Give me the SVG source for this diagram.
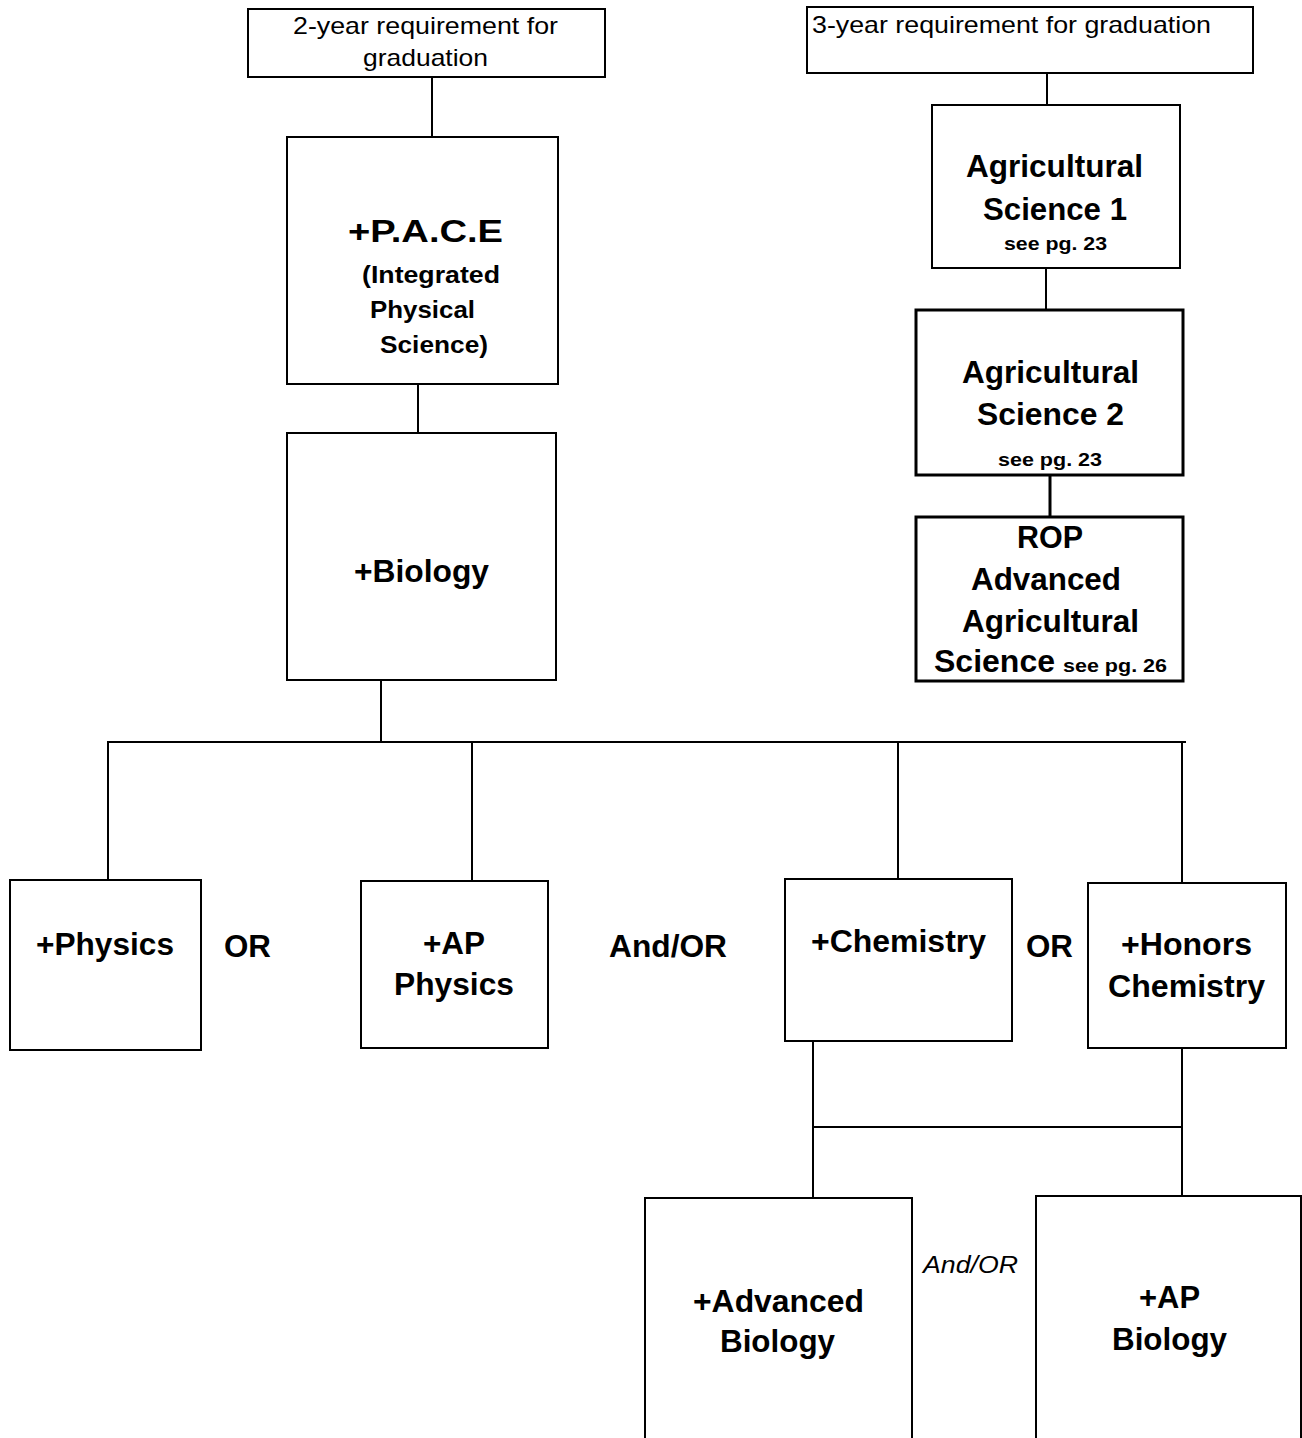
<svg xmlns="http://www.w3.org/2000/svg" width="1302" height="1438" viewBox="0 0 1302 1438">
<style>
.box{fill:#fff;stroke:#000;stroke-width:2}
.thick{fill:#fff;stroke:#000;stroke-width:3}
.ln{stroke:#000;stroke-width:2;fill:none}
.lnt{stroke:#000;stroke-width:3;fill:none}
text{font-family:"Liberation Sans",Arial,Helvetica,sans-serif;fill:#000}
.r{font-size:24px}
.b{font-size:31px;font-weight:bold}
.bp{font-size:32px;font-weight:bold}
.bs{font-size:24px;font-weight:bold}
.sm{font-size:18px;font-weight:bold}
.it{font-size:24px;font-style:italic}
</style>
<rect width="1302" height="1438" fill="#fff"/>
<g id="connectors">
<line class="ln" x1="432" y1="77" x2="432" y2="137"/>
<line class="ln" x1="418" y1="384" x2="418" y2="433"/>
<line class="ln" x1="381" y1="680" x2="381" y2="742"/>
<line class="ln" x1="107" y1="742" x2="1186" y2="742"/>
<line class="ln" x1="108" y1="742" x2="108" y2="880"/>
<line class="ln" x1="472" y1="742" x2="472" y2="881"/>
<line class="ln" x1="898" y1="742" x2="898" y2="879"/>
<line class="ln" x1="1182" y1="742" x2="1182" y2="883"/>
<line class="ln" x1="1047" y1="73" x2="1047" y2="105"/>
<line class="ln" x1="1046" y1="268" x2="1046" y2="310"/>
<line class="lnt" x1="1050" y1="475" x2="1050" y2="517"/>
<line class="ln" x1="813" y1="1040" x2="813" y2="1198"/>
<line class="ln" x1="813" y1="1127" x2="1182" y2="1127"/>
<line class="ln" x1="1182" y1="1048" x2="1182" y2="1196"/>
</g>
<g id="req2">
<rect class="box" x="248" y="9" width="357" height="68"/>
<text class="r" x="293" y="34" textLength="265" lengthAdjust="spacingAndGlyphs">2-year requirement for</text>
<text class="r" x="363" y="66" textLength="125" lengthAdjust="spacingAndGlyphs">graduation</text>
</g>
<g id="req3">
<rect class="box" x="807" y="7" width="446" height="66"/>
<text class="r" x="812" y="33" textLength="399" lengthAdjust="spacingAndGlyphs">3-year requirement for graduation</text>
</g>
<g id="pace">
<rect class="box" x="287" y="137" width="271" height="247"/>
<text class="bp" x="348" y="242" textLength="155" lengthAdjust="spacingAndGlyphs">+P.A.C.E</text>
<text class="bs" x="362" y="283" textLength="138" lengthAdjust="spacingAndGlyphs">(Integrated</text>
<text class="bs" x="370" y="318" textLength="105" lengthAdjust="spacingAndGlyphs">Physical</text>
<text class="bs" x="380" y="353" textLength="108" lengthAdjust="spacingAndGlyphs">Science)</text>
</g>
<g id="biology">
<rect class="box" x="287" y="433" width="269" height="247"/>
<text class="b" x="354" y="582" textLength="135" lengthAdjust="spacingAndGlyphs">+Biology</text>
</g>
<g id="ag1">
<rect class="box" x="932" y="105" width="248" height="163"/>
<text class="b" x="966" y="177" textLength="177" lengthAdjust="spacingAndGlyphs">Agricultural</text>
<text class="b" x="983" y="220" textLength="144" lengthAdjust="spacingAndGlyphs">Science 1</text>
<text class="sm" x="1004" y="250" textLength="103" lengthAdjust="spacingAndGlyphs">see pg. 23</text>
</g>
<g id="ag2">
<rect class="thick" x="916" y="310" width="267" height="165"/>
<text class="b" x="962" y="383" textLength="177" lengthAdjust="spacingAndGlyphs">Agricultural</text>
<text class="b" x="977" y="425" textLength="147" lengthAdjust="spacingAndGlyphs">Science 2</text>
<text class="sm" x="998" y="466" textLength="104" lengthAdjust="spacingAndGlyphs">see pg. 23</text>
</g>
<g id="rop">
<rect class="thick" x="916" y="517" width="267" height="164"/>
<text class="b" x="1017" y="548" textLength="66" lengthAdjust="spacingAndGlyphs">ROP</text>
<text class="b" x="971" y="590" textLength="150" lengthAdjust="spacingAndGlyphs">Advanced</text>
<text class="b" x="962" y="632" textLength="177" lengthAdjust="spacingAndGlyphs">Agricultural</text>
<text class="b" x="934" y="672" textLength="121" lengthAdjust="spacingAndGlyphs">Science</text>
<text class="sm" x="1063" y="672" textLength="104" lengthAdjust="spacingAndGlyphs">see pg. 26</text>
</g>
<g id="physics">
<rect class="box" x="10" y="880" width="191" height="170"/>
<text class="b" x="36" y="955" textLength="138" lengthAdjust="spacingAndGlyphs">+Physics</text>
</g>
<text class="b" x="224" y="957" textLength="47" lengthAdjust="spacingAndGlyphs">OR</text>
<g id="apphysics">
<rect class="box" x="361" y="881" width="187" height="167"/>
<text class="b" x="423" y="954" textLength="62" lengthAdjust="spacingAndGlyphs">+AP</text>
<text class="b" x="394" y="995" textLength="120" lengthAdjust="spacingAndGlyphs">Physics</text>
</g>
<text class="b" x="609" y="957" textLength="118" lengthAdjust="spacingAndGlyphs">And/OR</text>
<g id="chemistry">
<rect class="box" x="785" y="879" width="227" height="162"/>
<text class="b" x="811" y="952" textLength="175" lengthAdjust="spacingAndGlyphs">+Chemistry</text>
</g>
<text class="b" x="1026" y="957" textLength="47" lengthAdjust="spacingAndGlyphs">OR</text>
<g id="honorschem">
<rect class="box" x="1088" y="883" width="198" height="165"/>
<text class="b" x="1121" y="955" textLength="131" lengthAdjust="spacingAndGlyphs">+Honors</text>
<text class="b" x="1108" y="997" textLength="157" lengthAdjust="spacingAndGlyphs">Chemistry</text>
</g>
<g id="advbio">
<rect class="box" x="645" y="1198" width="267" height="270"/>
<text class="b" x="693" y="1312" textLength="171" lengthAdjust="spacingAndGlyphs">+Advanced</text>
<text class="b" x="720" y="1352" textLength="115" lengthAdjust="spacingAndGlyphs">Biology</text>
</g>
<text class="it" x="923" y="1273" textLength="95" lengthAdjust="spacingAndGlyphs">And/OR</text>
<g id="apbio">
<rect class="box" x="1036" y="1196" width="265" height="270"/>
<text class="b" x="1139" y="1308" textLength="61" lengthAdjust="spacingAndGlyphs">+AP</text>
<text class="b" x="1112" y="1350" textLength="115" lengthAdjust="spacingAndGlyphs">Biology</text>
</g>
</svg>
